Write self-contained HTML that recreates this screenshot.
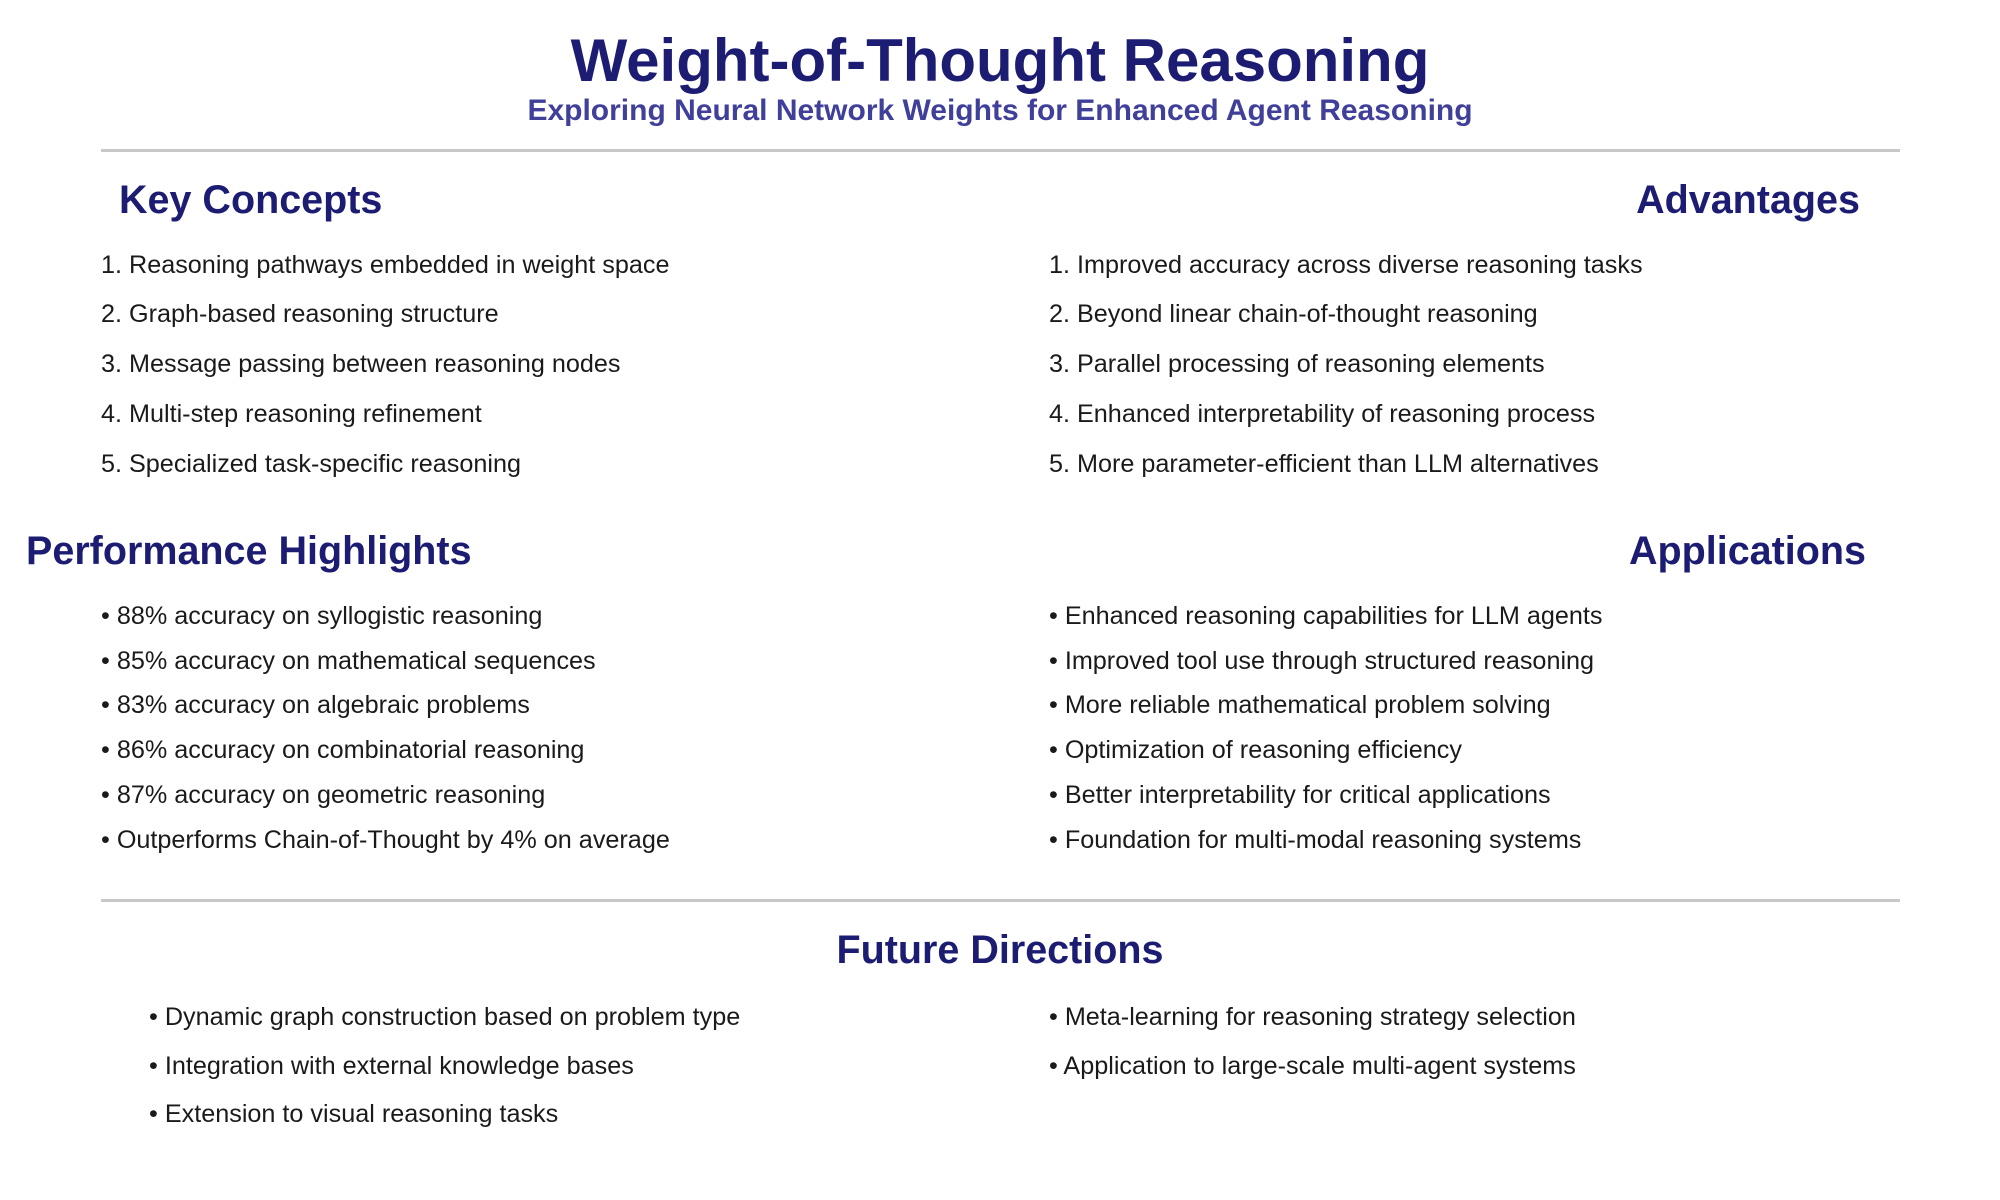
<!DOCTYPE html>
<html><head><meta charset="utf-8"><style>
body{margin:0;width:2000px;height:1200px;background:#fff;font-family:"Liberation Sans",Arial,sans-serif;position:relative;overflow:hidden}
.a{position:absolute;white-space:nowrap}
h1,h2,.sub{margin:0}
.h{color:#1c1c72;font-weight:bold;font-size:39.5px;line-height:44px}
.t{font-size:25.2px;line-height:30px;color:#1a1a1a}
.rule{position:absolute;left:101px;width:1799px;height:3px;background:#c8c8c8}
</style></head><body>
<h1 class="a" style="left:0;width:2000px;text-align:center;top:28px;font-size:60px;line-height:66px;color:#1c1c72">Weight-of-Thought Reasoning</h1>
<div class="a sub" style="left:0;width:2000px;text-align:center;top:94px;font-size:30px;line-height:34px;font-weight:bold;color:#40409a">Exploring Neural Network Weights for Enhanced Agent Reasoning</div>
<div class="rule" style="top:149px"></div>

<h2 class="a h" style="left:119px;top:178px">Key Concepts</h2>
<h2 class="a h" style="right:140px;top:178px">Advantages</h2>

<div>
<div class="a t" style="left:101px;top:250px">1. Reasoning pathways embedded in weight space</div>
<div class="a t" style="left:101px;top:299px">2. Graph-based reasoning structure</div>
<div class="a t" style="left:101px;top:349px">3. Message passing between reasoning nodes</div>
<div class="a t" style="left:101px;top:399px">4. Multi-step reasoning refinement</div>
<div class="a t" style="left:101px;top:449px">5. Specialized task-specific reasoning</div>
</div>
<div>
<div class="a t" style="left:1049px;top:250px">1. Improved accuracy across diverse reasoning tasks</div>
<div class="a t" style="left:1049px;top:299px">2. Beyond linear chain-of-thought reasoning</div>
<div class="a t" style="left:1049px;top:349px">3. Parallel processing of reasoning elements</div>
<div class="a t" style="left:1049px;top:399px">4. Enhanced interpretability of reasoning process</div>
<div class="a t" style="left:1049px;top:449px">5. More parameter-efficient than LLM alternatives</div>
</div>

<h2 class="a h" style="left:26px;top:529px">Performance Highlights</h2>
<h2 class="a h" style="right:134px;top:529px">Applications</h2>

<div>
<div class="a t" style="left:101px;top:601px">• 88% accuracy on syllogistic reasoning</div>
<div class="a t" style="left:101px;top:646px">• 85% accuracy on mathematical sequences</div>
<div class="a t" style="left:101px;top:690px">• 83% accuracy on algebraic problems</div>
<div class="a t" style="left:101px;top:735px">• 86% accuracy on combinatorial reasoning</div>
<div class="a t" style="left:101px;top:780px">• 87% accuracy on geometric reasoning</div>
<div class="a t" style="left:101px;top:825px">• Outperforms Chain-of-Thought by 4% on average</div>
</div>
<div>
<div class="a t" style="left:1049px;top:601px">• Enhanced reasoning capabilities for LLM agents</div>
<div class="a t" style="left:1049px;top:646px">• Improved tool use through structured reasoning</div>
<div class="a t" style="left:1049px;top:690px">• More reliable mathematical problem solving</div>
<div class="a t" style="left:1049px;top:735px">• Optimization of reasoning efficiency</div>
<div class="a t" style="left:1049px;top:780px">• Better interpretability for critical applications</div>
<div class="a t" style="left:1049px;top:825px">• Foundation for multi-modal reasoning systems</div>
</div>

<div class="rule" style="top:899px"></div>
<h2 class="a h" style="left:0;width:2000px;text-align:center;top:928px">Future Directions</h2>

<div>
<div class="a t" style="left:149px;top:1002px">• Dynamic graph construction based on problem type</div>
<div class="a t" style="left:149px;top:1051px">• Integration with external knowledge bases</div>
<div class="a t" style="left:149px;top:1099px">• Extension to visual reasoning tasks</div>
<div class="a t" style="left:1049px;top:1002px">• Meta-learning for reasoning strategy selection</div>
<div class="a t" style="left:1049px;top:1051px">• Application to large-scale multi-agent systems</div>
</div>
</body></html>
